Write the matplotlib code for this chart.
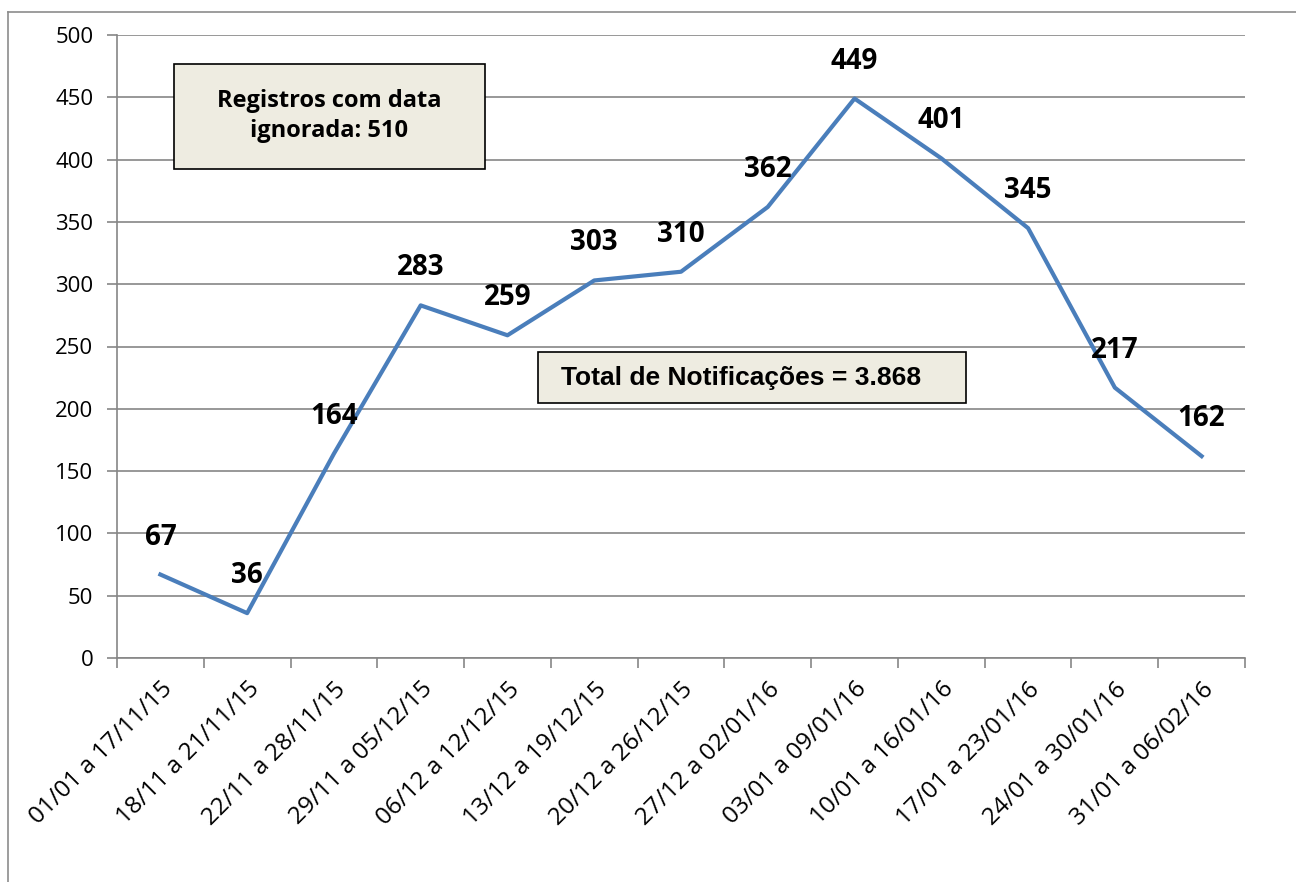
import matplotlib.pyplot as plt
from matplotlib.patches import Rectangle
from matplotlib.lines import Line2D

weeks = ["01/01 a 17/11/15", "18/11 a 21/11/15", "22/11 a 28/11/15",
         "29/11 a 05/12/15", "06/12 a 12/12/15", "13/12 a 19/12/15",
         "20/12 a 26/12/15", "27/12 a 02/01/16", "03/01 a 09/01/16",
         "10/01 a 16/01/16", "17/01 a 23/01/16", "24/01 a 30/01/16",
         "31/01 a 06/02/16"]
cases = [67, 36, 164, 283, 259, 303, 310, 362, 449, 401, 345, 217, 162]
y_ticks = [0, 50, 100, 150, 200, 250, 300, 350, 400, 450, 500]

W, H = 1296, 882
fig = plt.figure(figsize=(W / 100, H / 100), dpi=100)
ax = fig.add_axes([117 / W, 1 - 658 / H, (1245 - 117) / W, (658 - 35) / H])

grid_c = "#868686"
x = list(range(len(cases)))
ax.plot(x, cases, color="#4A7EBB", lw=3, solid_joinstyle="round", zorder=3)

for xi, v in zip(x, cases):
    ax.annotate(str(v), (xi, v), xytext=(0, 27), textcoords="offset points",
                ha="center", va="center", fontsize=20, fontweight="bold",
                family="Open Sans", color="black", zorder=4)

ax.set_xlim(-0.5, len(cases) - 0.5)
ax.set_ylim(0, 500)
ax.set_yticks(y_ticks)
ax.set_yticklabels([str(t) for t in y_ticks], fontsize=16, family="Open Sans")
ax.yaxis.grid(True, color=grid_c, lw=1.2)
ax.set_axisbelow(True)

ax.set_xticks(x)
ax.set_xticklabels(weeks, rotation=45, ha="right", rotation_mode="anchor",
                   fontsize=17.5, family="Open Sans")
ax.set_xticks([i - 0.5 for i in range(len(cases) + 1)], minor=True)
ax.tick_params(axis="x", which="major", length=0, pad=14)
ax.tick_params(axis="x", which="minor", length=7, color=grid_c, width=1.2)
ax.tick_params(axis="y", length=7, color=grid_c, width=1.2, pad=10)

for s in ["top", "right"]:
    ax.spines[s].set_visible(False)
for s in ["left", "bottom"]:
    ax.spines[s].set_color(grid_c)
    ax.spines[s].set_linewidth(1.2)

# outer chart frame
fig.add_artist(Line2D([8 / W, 1], [1 - 12 / H, 1 - 12 / H], color="#8c8c8c", lw=1.2))
fig.add_artist(Line2D([8 / W, 8 / W], [0, 1 - 12 / H], color="#8c8c8c", lw=1.2))

# annotation boxes
box_fill = "#EEECE1"
fig.add_artist(Rectangle((174 / W, 1 - 169 / H), (485 - 174) / W, (169 - 64) / H,
                         facecolor=box_fill, edgecolor="black", lw=1.2, zorder=5))
fig.text((174 + 485) / 2 / W, 1 - 116 / H, "Registros com data\nignorada: 510",
         ha="center", va="center", fontsize=17, fontweight="bold",
         family="Open Sans", linespacing=1.35, zorder=6)

fig.add_artist(Rectangle((538 / W, 1 - 403 / H), (966 - 538) / W, (403 - 352) / H,
                         facecolor=box_fill, edgecolor="black", lw=1.2, zorder=5))
fig.text(741 / W, 1 - 378 / H, "Total de Notificações = 3.868",
         ha="center", va="center", fontsize=19, fontweight="bold",
         family="Liberation Sans", zorder=6)

fig.savefig("out.png", dpi=100)
